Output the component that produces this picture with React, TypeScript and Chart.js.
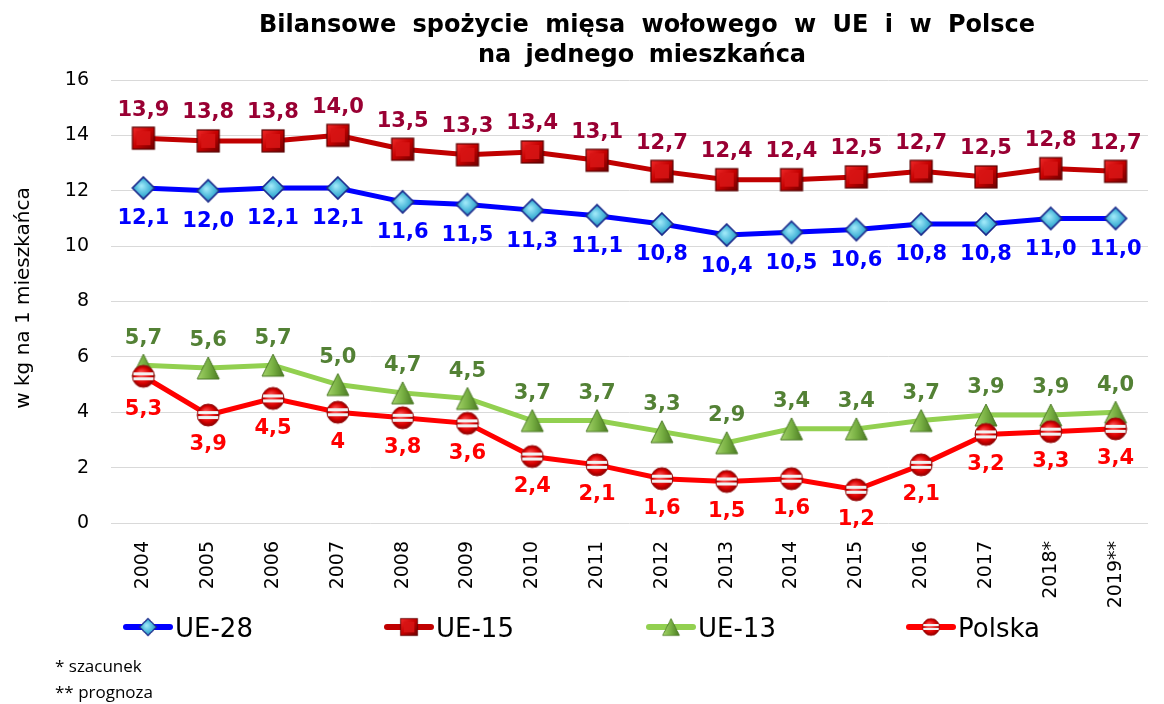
import React, { useEffect, useRef } from "react";
import { Chart, registerables } from "chart.js";

Chart.register(...registerables);

const years = ["2004", "2005", "2006", "2007", "2008", "2009", "2010", "2011", "2012", "2013", "2014", "2015", "2016", "2017", "2018*", "2019**"];
const ue28 = [12.1, 12.0, 12.1, 12.1, 11.6, 11.5, 11.3, 11.1, 10.8, 10.4, 10.5, 10.6, 10.8, 10.8, 11.0, 11.0];
const ue15 = [13.9, 13.8, 13.8, 14.0, 13.5, 13.3, 13.4, 13.1, 12.7, 12.4, 12.4, 12.5, 12.7, 12.5, 12.8, 12.7];
const ue13 = [5.7, 5.6, 5.7, 5.0, 4.7, 4.5, 3.7, 3.7, 3.3, 2.9, 3.4, 3.4, 3.7, 3.9, 3.9, 4.0];
const polska = [5.3, 3.9, 4.5, 4.0, 3.8, 3.6, 2.4, 2.1, 1.6, 1.5, 1.6, 1.2, 2.1, 3.2, 3.3, 3.4];
const polskaLabels = ["5,3", "3,9", "4,5", "4", "3,8", "3,6", "2,4", "2,1", "1,6", "1,5", "1,6", "1,2", "2,1", "3,2", "3,3", "3,4"];

const titleLines = ["Bilansowe spożycie mięsa wołowego w UE i w Polsce", "na jednego mieszkańca"];
const yTitle = "w kg na 1 mieszkańca";
const footnotes = ["* szacunek", "** prognoza"];

const fmt = (v: number) => v.toFixed(1).replace(".", ",");

function makeMarker(type: string): HTMLCanvasElement {
  const c = document.createElement("canvas");
  c.width = 26;
  c.height = 26;
  const g = c.getContext("2d")!;
  const cx = 13, cy = 13;
  if (type === "diamond") {
    g.beginPath();
    g.moveTo(cx, 2); g.lineTo(24, cy); g.lineTo(cx, 24); g.lineTo(2, cy); g.closePath();
    const gr = g.createRadialGradient(cx - 2, cy - 2, 1, cx, cy, 12);
    gr.addColorStop(0, "#9BE6F7");
    gr.addColorStop(0.6, "#45B4D8");
    gr.addColorStop(1, "#2A6FA8");
    g.fillStyle = gr;
    g.fill();
    g.lineWidth = 1.6;
    g.strokeStyle = "#1C2A8C";
    g.stroke();
  } else if (type === "square") {
    const gr = g.createLinearGradient(2, 2, 24, 24);
    gr.addColorStop(0, "#F02A2A");
    gr.addColorStop(0.5, "#C40000");
    gr.addColorStop(1, "#6E0000");
    g.fillStyle = gr;
    g.fillRect(2, 2, 22, 22);
    g.fillStyle = "rgba(215,20,20,0.9)";
    g.fillRect(6, 6, 14, 14);
    g.lineWidth = 1.2;
    g.strokeStyle = "#5A0000";
    g.strokeRect(2, 2, 22, 22);
  } else if (type === "triangle") {
    g.beginPath();
    g.moveTo(cx, 2); g.lineTo(24, 24); g.lineTo(2, 24); g.closePath();
    const gr = g.createLinearGradient(2, 0, 24, 0);
    gr.addColorStop(0, "#A5D46A");
    gr.addColorStop(0.5, "#78B043");
    gr.addColorStop(1, "#4A7A22");
    g.fillStyle = gr;
    g.fill();
    g.lineWidth = 1;
    g.strokeStyle = "#4C7A26";
    g.stroke();
  } else {
    g.save();
    g.beginPath();
    g.arc(cx, cy, 11, 0, Math.PI * 2);
    const gr = g.createRadialGradient(cx - 3, cy - 3, 1, cx, cy, 11);
    gr.addColorStop(0, "#FF5A5A");
    gr.addColorStop(0.7, "#D80000");
    gr.addColorStop(1, "#8A0000");
    g.fillStyle = gr;
    g.fill();
    g.clip();
    g.fillStyle = "#F2F2F2";
    g.fillRect(3, 9, 20, 3);
    g.fillRect(3, 14, 20, 3);
    g.restore();
    g.beginPath();
    g.arc(cx, cy, 11, 0, Math.PI * 2);
    g.lineWidth = 1;
    g.strokeStyle = "#9A1010";
    g.stroke();
  }
  return c;
}

export default function App() {
  const ref = useRef<HTMLCanvasElement | null>(null);

  useEffect(() => {
    if (!ref.current) return;
    const markers = {
      diamond: makeMarker("diamond"),
      square: makeMarker("square"),
      triangle: makeMarker("triangle"),
      circle: makeMarker("circle"),
    };

    const series = [
      { label: "UE-28", data: ue28, line: "#0000FF", text: "#0000FF", marker: markers.diamond, offset: 31, labels: ue28.map(fmt), order: 3 },
      { label: "UE-15", data: ue15, line: "#C00000", text: "#990033", marker: markers.square, offset: -28, labels: ue15.map(fmt), order: 2 },
      { label: "UE-13", data: ue13, line: "#92D050", text: "#538135", marker: markers.triangle, offset: -27, labels: ue13.map(fmt), order: 1 },
      { label: "Polska", data: polska, line: "#FF0000", text: "#FF0000", marker: markers.circle, offset: 30, labels: polskaLabels, order: 0 },
    ];

    const decor = {
      id: "decor",
      afterDatasetsDraw(chart: any) {
        const ctx = chart.ctx;
        ctx.save();
        ctx.textAlign = "center";
        ctx.textBaseline = "middle";
        ctx.font = "bold 21px 'DejaVu Sans'";
        series.forEach((s, i) => {
          const meta = chart.getDatasetMeta(i);
          ctx.fillStyle = s.text;
          meta.data.forEach((pt: any, j: number) => {
            let off = s.offset;
            if (s.label === "Polska" && j === 0) off = 33;
            ctx.fillText(s.labels[j], pt.x, pt.y + off);
          });
        });
        ctx.restore();
      },
      afterDraw(chart: any) {
        const ctx = chart.ctx;
        ctx.save();
        // title
        ctx.fillStyle = "#000";
        ctx.textAlign = "center";
        ctx.textBaseline = "middle";
        ctx.font = "bold 24px 'DejaVu Sans'";
        try { (ctx as any).wordSpacing = "8px"; } catch (e) {}
        ctx.fillText(titleLines[0], 647, 26);
        try { (ctx as any).wordSpacing = "6px"; } catch (e) {}
        ctx.fillText(titleLines[1], 642, 56);
        try { (ctx as any).wordSpacing = "0px"; } catch (e) {}
        // y title
        ctx.save();
        ctx.translate(24, 298);
        ctx.rotate(-Math.PI / 2);
        ctx.font = "20px 'DejaVu Sans'";
        ctx.fillText(yTitle, 0, 0);
        ctx.restore();
        // legend
        const starts = [124, 385, 647, 907];
        series.forEach((s, i) => {
          const x = starts[i];
          const y = 627;
          ctx.strokeStyle = s.line;
          ctx.lineWidth = 6;
          ctx.lineCap = "round";
          ctx.beginPath();
          ctx.moveTo(x + 2, y);
          ctx.lineTo(x + 46, y);
          ctx.stroke();
          ctx.drawImage(s.marker, x + 24 - 10, y - 10, 20, 20);
          ctx.fillStyle = "#000";
          ctx.textAlign = "left";
          ctx.textBaseline = "alphabetic";
          ctx.font = "26px 'DejaVu Sans'";
          ctx.fillText(s.label, x + 51, 637);
        });
        // footnotes
        ctx.font = "17px 'Open Sans'";
        ctx.textAlign = "left";
        ctx.textBaseline = "middle";
        ctx.fillStyle = "#000";
        ctx.fillText(footnotes[0], 55, 667);
        ctx.fillText(footnotes[1], 55, 693);
        ctx.restore();
      },
    };

    const chart = new Chart(ref.current, {
      type: "line",
      data: {
        labels: years,
        datasets: series.map((s) => ({
          label: s.label,
          data: s.data,
          borderColor: s.line,
          backgroundColor: s.line,
          borderWidth: 5,
          tension: 0,
          pointStyle: s.marker as any,
          pointRadius: 11,
          order: s.order,
        })),
      },
      options: {
        responsive: false,
        animation: false,
        layout: { padding: { top: 80, right: 1, left: 0, bottom: 0 } },
        plugins: {
          legend: { display: false },
          title: { display: false },
          tooltip: { enabled: false },
        },
        scales: {
          x: {
            offset: true,
            grid: { display: false },
            border: { display: false },
            ticks: {
              color: "#000",
              font: { family: "'DejaVu Sans'", size: 19 },
              minRotation: 90,
              maxRotation: 90,
              autoSkip: false,
              padding: 10,
            },
            afterFit(scale: any) {
              scale.height = 181;
            },
          },
          y: {
            min: 0,
            max: 16,
            grid: { color: "#D9D9D9", lineWidth: 1, drawTicks: false },
            border: { display: false },
            ticks: {
              stepSize: 2,
              color: "#000",
              font: { family: "'DejaVu Sans'", size: 19 },
              padding: 22,
            },
            afterFit(scale: any) {
              scale.width = 111;
            },
          },
        },
      },
      plugins: [decor],
    });
    return () => chart.destroy();
  }, []);

  return (
    <div style={{ position: "absolute", left: 0, top: 0, width: 1164, height: 704, background: "#fff" }}>
      <canvas ref={ref} width={1164} height={704} style={{ width: 1164, height: 704 }} />
    </div>
  );
}
